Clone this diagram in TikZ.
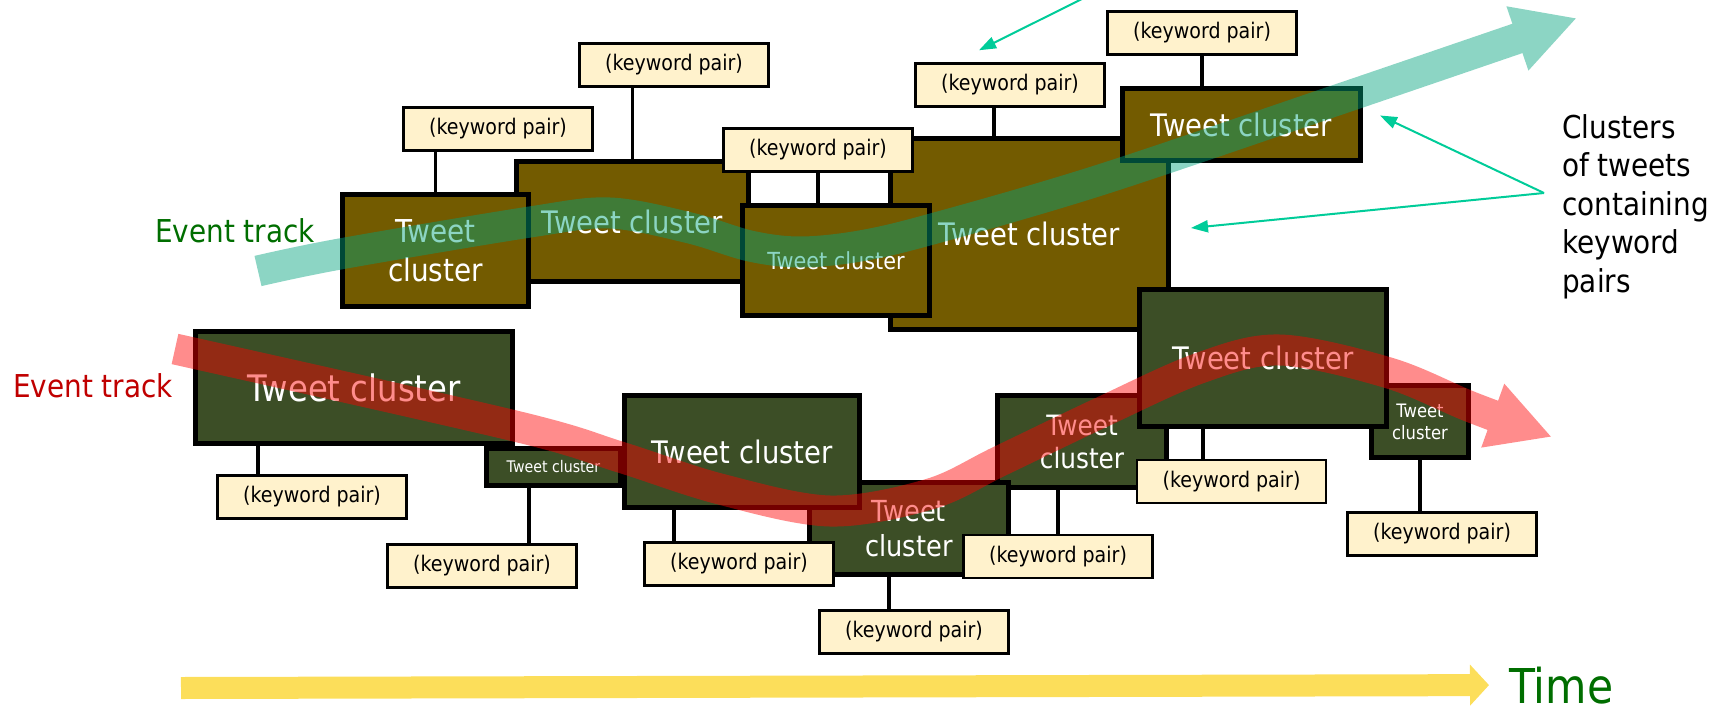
\documentclass[tikz,border=0pt]{standalone}
\usepackage{fontspec}
\setmainfont{DejaVu Sans}[FakeStretch=0.885]
\usepackage{tikz}
\usetikzlibrary{arrows.meta}

\definecolor{clbrown}{RGB}{115,91,0}
\definecolor{clgreen}{RGB}{60,78,38}
\definecolor{kwfill}{RGB}{255,242,204}
\definecolor{tealtrack}{RGB}{0,162,124}
\definecolor{notecol}{RGB}{0,204,153}
\definecolor{trackgreen}{RGB}{0,110,0}
\definecolor{trackred}{RGB}{192,0,0}
\definecolor{timeyellow}{RGB}{252,222,90}

\begin{document}
\begin{tikzpicture}[x=1pt,y=-1pt,
            cluster/.style={draw=black,line width=5pt,text=white,align=center,inner sep=0pt},
            brownclust/.style={cluster,fill=clbrown},
            greenclust/.style={cluster,fill=clgreen},
            kwpair/.style={draw=black,line width=2.5pt,fill=kwfill,minimum width=189pt,
                minimum height=43pt,inner sep=0pt,font=\fontsize{21.5}{26}\selectfont},
            link/.style={line width=3.5pt},
            track/.style={line width=31pt,-{Triangle[length=63pt,width=63pt]}},
            note/.style={draw=notecol,line width=2pt,-{Triangle[length=17pt,width=12pt]}}]

            \useasboundingbox (0,0) rectangle (1720,709);

            % top row
            \node[brownclust,minimum width=232pt,minimum height=120pt,font=\fontsize{31}{38}\selectfont] (t2) at (632.5,221.5) {Tweet cluster};
            \node[brownclust,minimum width=186pt,minimum height=112pt,font=\fontsize{31.5}{39}\selectfont] (t1) at (435.5,250.5) {Tweet\\cluster};
            \node[brownclust,minimum width=278pt,minimum height=191pt,font=\fontsize{31}{38}\selectfont] (t4) at (1029.5,234) {Tweet cluster};
            \node[brownclust,minimum width=187pt,minimum height=110pt,font=\fontsize{23.5}{28}\selectfont] (t3) at (836,260.5) {Tweet cluster};
            \node[brownclust,minimum width=238pt,minimum height=72pt,font=\fontsize{31}{38}\selectfont] (t5) at (1241.5,124.5) {Tweet cluster};

            % bottom row
            \node[greenclust,minimum width=317pt,minimum height=112pt,font=\fontsize{36.5}{44}\selectfont] (b1) at (354,387.5) {Tweet cluster};
            \node[greenclust,minimum width=134pt,minimum height=37pt,font=\fontsize{16}{19}\selectfont] (b2) at (553.5,467) {Tweet cluster};
            \node[greenclust,minimum width=169pt,minimum height=92pt,font=\fontsize{28}{33}\selectfont] (b5) at (1082,441.5) {Tweet\\cluster};
            \node[greenclust,minimum width=199pt,minimum height=92pt,font=\fontsize{29}{35}\selectfont] (b4) at (909,528.5) {Tweet\\cluster};
            \node[greenclust,minimum width=235pt,minimum height=112pt,font=\fontsize{31}{38}\selectfont] (b3) at (742,451.5) {Tweet cluster};
            \node[greenclust,minimum width=97pt,minimum height=72pt,font=\fontsize{18.5}{22}\selectfont] (b7) at (1420,421.5) {Tweet\\cluster};
            \node[greenclust,minimum width=247pt,minimum height=137pt,font=\fontsize{31}{38}\selectfont] (b6) at (1263,358) {Tweet cluster};

            % keyword pairs
            \node[kwpair] (ka1) at (498,129) {(keyword pair)};
            \node[kwpair] (ka2) at (674,65) {(keyword pair)};
            \node[kwpair] (ka3) at (818,150) {(keyword pair)};
            \node[kwpair] (ka4) at (1010,85) {(keyword pair)};
            \node[kwpair] (ka5) at (1202,33) {(keyword pair)};
            \node[kwpair] (kb1) at (312,497) {(keyword pair)};
            \node[kwpair] (kb2) at (482,566) {(keyword pair)};
            \node[kwpair] (kb3) at (739,564) {(keyword pair)};
            \node[kwpair] (kb4) at (914,632) {(keyword pair)};
            \node[kwpair] (kb5) at (1058,556.5) {(keyword pair)};
            \node[kwpair] (kb6) at (1231.5,481.5) {(keyword pair)};
            \node[kwpair] (kb7) at (1442,534) {(keyword pair)};

            \draw[link] (ka1.south -| t1.north) -- (t1.north);
            \draw[link] (ka2.south -| t2.north) -- (t2.north);
            \draw[link] (ka3.south) -- (ka3.south |- t3.north);
            \draw[link] ([xshift=-16pt]ka4.south) -- ([xshift=-16pt]ka4.south |- t4.north);
            \draw[link] (ka5.south) -- (ka5.south |- t5.north);
            \draw[link] ([xshift=-54pt]kb1.north) -- ([xshift=-54pt]kb1.north |- b1.south);
            \draw[link] ([xshift=47pt]kb2.north) -- ([xshift=47pt]kb2.north |- b2.south);
            \draw[link] ([xshift=-65pt]kb3.north) -- ([xshift=-65pt]kb3.north |- b3.south);
            \draw[link] ([xshift=-25pt]kb4.north) -- ([xshift=-25pt]kb4.north |- b4.south);
            \draw[link] (kb5.north) -- (kb5.north |- b5.south);
            \draw[link] ([xshift=-28.5pt]kb6.north) -- ([xshift=-28.5pt]kb6.north |- b6.south);
            \draw[link] (b7.south) -- (b7.south |- kb7.north);

            % event tracks
            \begin{scope}[transparency group,opacity=0.45]
                \draw[track,tealtrack] plot[smooth,tension=0.55] coordinates {(258,271) (340,254) (530,222)
                    (610,213) (690,228) (750,246) (800,252) (860,246) (932,229) (1100,180) (1340,99) (1577,18)};
            \end{scope}
            \begin{scope}[transparency group,opacity=0.45]
                \draw[track,red] plot[smooth,tension=0.55] coordinates {(175,349) (515,426) (620,457)
                    (720,489) (830,511) (930,494) (1000,461) (1100,413) (1200,368) (1280,350) (1389,373)
                    (1471,407) (1552,437)};
            \end{scope}

            \node[anchor=base west,inner sep=0pt,text=trackgreen,font=\fontsize{31.5}{38}\selectfont] (lg) at (155,242) {Event track};
            \node[anchor=base west,inner sep=0pt,text=trackred,font=\fontsize{31.5}{38}\selectfont] (lr) at (13,397) {Event track};

            \node[anchor=north west,inner sep=0pt,align=left,font=\fontsize{31.5}{38.5}\selectfont] (info) at (1562,114) {Clusters\\of tweets\\containing\\keyword\\pairs};
            \coordinate (src) at (1544,193);
            \coordinate (src2) at (1104,-12);
            \draw[note] (src) -- ([shift={(17,-9)}]t5.east);
            \draw[note] (src) -- ([shift={(20,-6)}]t4.east);
            \draw[note] (src2) -- ([shift={(-31,-12)}]ka4.north);

            % time axis
            \node[anchor=base west,inner sep=0pt,text=trackgreen,font=\fontsize{48}{58}\selectfont] (time) at (1509,703) {Time};
            \draw[timeyellow,line width=22pt,-{Triangle[length=19pt,width=40pt]}] (181,688) -- ([xshift=-20pt]time.west);

        \end{tikzpicture}
\end{document}
